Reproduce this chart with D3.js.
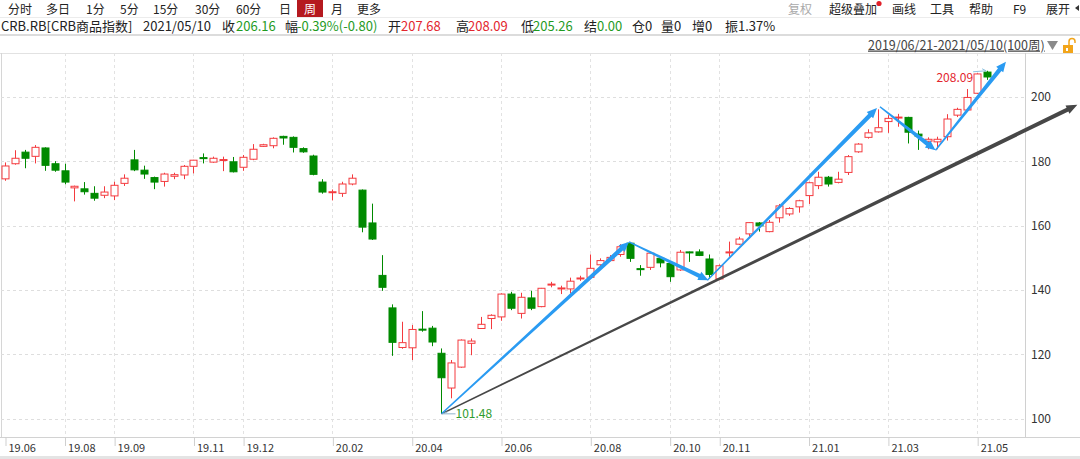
<!DOCTYPE html>
<html><head><meta charset="utf-8">
<script src="https://cdn.jsdelivr.net/npm/d3@7"></script>
<style>
html,body{margin:0;padding:0;background:#fff;}
svg{display:block;font-family:"Noto Sans CJK SC","Noto Sans",sans-serif;}
</style></head>
<body><svg id="c" width="1080" height="459"></svg>
<script>
// ---- data (weekly candles, 2019/06/21 - 2021/05/10, 100 weeks) ----
const open = [174.5,179.2,182.8,181.5,184.1,179.2,177.0,171.7,171.4,170.0,
169.4,169.2,173.1,180.4,177.2,174.9,173.7,175.3,175.7,178.4,
181.1,179.7,180.2,179.8,178.1,180.6,184.6,184.8,187.7,187.4,
183.9,181.6,173.5,170.3,170.0,172.9,171.0,160.8,144.5,134.4,
122.1,122.0,127.8,128.1,120.3,109.5,116.0,123.4,128.0,131.1,
131.6,138.7,132.7,137.5,134.8,141.5,140.4,140.3,143.5,143.9,
147.8,149.1,151.0,154.5,146.6,147.0,149.8,148.2,146.2,151.8,
151.8,149.6,143.4,151.6,154.2,157.4,160.8,158.1,162.4,163.6,
165.8,169.3,172.4,175.0,173.4,176.5,182.9,187.4,189.1,192.3,
193.5,193.6,188.4,186.2,186.0,187.6,194.3,195.9,201.1,207.68];
const high = [179.6,183.4,183.5,185.0,184.3,180.0,179.2,172.4,173.5,172.2,
172.2,173.6,175.9,183.5,178.6,175.2,176.4,176.4,178.8,180.4,
182.4,181.4,181.4,181.3,181.9,185.3,185.4,187.4,187.9,187.7,
184.3,182.0,174.4,171.2,173.6,175.9,171.2,166.8,150.8,135.5,
130.1,129.1,133.4,128.8,121.8,118.2,124.6,124.9,131.6,132.4,
138.9,139.4,139.1,139.7,140.6,142.5,141.3,143.8,144.4,151.0,
149.8,150.8,154.2,154.9,147.7,151.8,150.5,148.7,152.4,151.9,
152.6,151.0,147.9,155.0,156.5,161.0,161.1,161.7,166.7,165.7,
168.0,173.6,176.7,175.4,176.7,181.9,185.6,189.9,196.1,194.3,
194.7,193.8,189.5,187.4,187.6,194.6,196.6,202.4,207.3,208.09];
const low = [173.9,178.9,177.8,179.3,177.0,176.7,172.8,167.5,169.6,167.7,
168.5,167.9,172.3,176.9,174.5,171.3,172.1,174.4,174.4,176.2,
179.3,179.5,176.9,176.5,177.0,180.3,184.4,184.0,185.1,182.7,
182.6,175.6,169.9,167.8,168.9,172.5,157.9,155.5,139.7,119.5,
121.7,118.2,127.0,122.5,101.48,106.3,115.8,119.7,127.9,127.8,
130.4,133.7,131.1,133.7,134.6,140.8,138.7,138.9,142.8,143.6,
147.4,148.9,150.3,148.7,144.4,146.2,147.0,142.5,145.9,148.7,
150.5,143.6,143.0,150.3,153.9,156.5,158.1,157.9,160.9,163.0,
164.0,166.7,171.3,172.1,173.1,175.7,182.6,187.0,188.9,188.8,
190.7,185.5,183.5,183.7,183.7,186.4,193.7,195.6,200.9,205.26];
const close = [178.5,180.9,180.9,184.3,178.7,177.2,173.5,172.2,170.5,168.5,
170.4,172.5,174.7,177.3,176.0,173.5,176.0,175.8,178.4,180.3,
180.9,180.9,180.5,176.7,181.2,183.7,185.1,187.1,187.2,184.3,
182.9,175.9,170.4,170.5,172.9,174.7,159.5,155.8,140.8,123.7,
123.6,127.7,127.5,123.8,112.7,117.3,124.4,124.1,129.3,132.1,
138.7,134.3,137.7,134.3,140.5,141.8,140.6,142.7,143.7,146.7,
149.1,150.1,153.4,149.8,146.4,151.4,148.4,144.1,151.7,151.5,
150.7,144.8,147.5,151.8,155.8,160.9,159.9,161.0,166.1,165.3,
167.7,173.3,175.0,172.9,174.4,181.4,185.3,188.8,190.4,193.3,
193.7,189.0,187.8,186.8,186.8,193.1,196.1,199.8,207.1,206.16];

const tickIndex  = [0,6,11,19,24,33,41,50,59,67,72,81,89,98];
const tickLabels = ["19.06","19.08","19.09","19.11","19.12","20.02","20.04","20.06","20.08","20.10","20.11","21.01","21.03","21.05"];
const yTicks = [100,120,140,160,180,200];

// drawn trend arrows: [i1, v1, i2, v2]
const blueArrows = [[44,101.48,62.9,154.9],[62.9,154.9,70.9,143.0],[70.8,143.0,87.9,196.5],[88.2,196.9,93.8,183.4],[93.8,183.4,100.9,210.9]];
const grayArrow = [44,101.48,108.1,197.5];

const toolbarLeft = ["分时","多日","1分","5分","15分","30分","60分","日","周","月","更多"];
const toolbarLeftX = [8,46,86,120,153,195,236,279,298,331,357];
const toolbarRight = ["复权","超级叠加","画线","工具","帮助","F9","展开"];
const toolbarRightX = [788,829,892,930,969,1013,1046];

// ---- layout ----
const RED = "#f43a3e", GREEN = "#008a00";
const TXTRED = "#e3262e", TXTGREEN = "#1f9b1f";
const svg = d3.select("#c");
const plot = {left:1, right:1025, top:53, bottom:437};

const x = d3.scaleLinear().domain([0, open.length-1]).range([5, 987.1]);
const y = d3.scaleLinear().domain([100, 200]).range([418.6, 96.8]);

// header row 1
const g1 = svg.append("g");
g1.append("line").attr("x1",0).attr("x2",1080).attr("y1",17.5).attr("y2",17.5).attr("stroke","#ececec");
toolbarLeft.forEach((t,i)=>{
  if (t==="周") {
    g1.append("rect").attr("x",297).attr("y",0).attr("width",26).attr("height",17).attr("fill","#b5191f");
    g1.append("text").attr("x",310).attr("y",14).attr("text-anchor","middle").attr("font-size",12).attr("fill","#fff").text(t);
  } else {
    g1.append("text").attr("x",toolbarLeftX[i]).attr("y",14).attr("font-size",12).attr("fill","#222").text(t);
  }
});
toolbarRight.forEach((t,i)=>{
  g1.append("text").attr("x",toolbarRightX[i]).attr("y",14).attr("font-size",12)
    .attr("fill", t==="复权" ? "#aaa" : "#222").text(t);
});
g1.append("circle").attr("cx",879).attr("cy",3.5).attr("r",2.6).attr("fill","#e0202a");
g1.append("path").attr("d","M1079,5 L1075,8 L1079,11 Z").attr("fill","#333");

// header row 2
const info = [
  ["CRB.RB[CRB商品指数]",1,"#222"],["2021/05/10",143,"#222"],
  ["收",222,"#222"],["206.16",236,TXTGREEN],
  ["幅",285,"#222"],["-0.39%(-0.80)",297,TXTGREEN],
  ["开",388,"#222"],["207.68",401,TXTRED],
  ["高",456,"#222"],["208.09",468,TXTRED],
  ["低",521,"#222"],["205.26",533,TXTGREEN],
  ["结",584,"#222"],["0.00",597,TXTGREEN],
  ["仓0",632,"#222"],["量0",661,"#222"],["增0",692,"#222"],["振1.37%",725,"#222"]
];
info.forEach(d=>{
  svg.append("text").attr("x",d[1]).attr("y",31).attr("font-size",13).attr("fill",d[2]).text(d[0]);
});
svg.append("rect").attr("x",0).attr("y",34).attr("width",1080).attr("height",2).attr("fill","#dcdcdc");

// header row 3
svg.append("text").attr("x",868).attr("y",49.5).attr("font-size",12.5).attr("fill","#444")
  .attr("text-decoration","underline").text("2019/06/21-2021/05/10(100周)");
svg.append("path").attr("d","M1047,41 L1058,41 L1052.5,50 Z").attr("fill","#8a8a8a");
svg.append("rect").attr("x",1063).attr("y",45).attr("width",10).attr("height",8).attr("fill","#f2a51a");
svg.append("path").attr("d","M1069,45 L1069,41.5 A3,3 0 0 1 1075,41.5 L1075,43").attr("fill","none").attr("stroke","#f2a51a").attr("stroke-width",1.5);
svg.append("rect").attr("x",1066).attr("y",48).attr("width",2).attr("height",3).attr("fill","#fff");

// plot frame
svg.append("line").attr("x1",0).attr("x2",1080).attr("y1",plot.top+0.5).attr("y2",plot.top+0.5).attr("stroke","#e2e2e2");
svg.append("line").attr("x1",plot.left+0.5).attr("x2",plot.left+0.5).attr("y1",plot.top).attr("y2",plot.bottom).attr("stroke","#d6d6d6");
svg.append("line").attr("x1",plot.right+0.5).attr("x2",plot.right+0.5).attr("y1",plot.top).attr("y2",plot.bottom).attr("stroke","#d0d0d0");

// gridlines
const grid = svg.append("g");
yTicks.forEach(v=>{
  grid.append("line").attr("x1",plot.left).attr("x2",plot.right).attr("y1",Math.round(y(v))+0.5).attr("y2",Math.round(y(v))+0.5)
    .attr("stroke","#dedede").attr("stroke-dasharray","3,3");
});
tickIndex.slice(1).forEach(i=>{
  const xx = Math.round(x(i))+0.5;
  grid.append("line").attr("x1",xx).attr("x2",xx).attr("y1",plot.top).attr("y2",plot.bottom)
    .attr("stroke","#e2e2e2").attr("stroke-dasharray","3,3");
});

// right axis
const ya = svg.append("g").attr("transform",`translate(${plot.right},0)`)
  .call(d3.axisRight(y).tickValues(yTicks).tickSize(0).tickPadding(6).tickFormat(d3.format("d")));
ya.select(".domain").remove();
ya.selectAll("text").attr("font-size",12).attr("fill","#333").attr("font-family","'Noto Sans CJK SC','Noto Sans',sans-serif");

// bottom axis
const xa = svg.append("g").attr("transform",`translate(0,${plot.bottom})`)
  .call(d3.axisBottom(x).tickValues(tickIndex).tickSize(9).tickPadding(0)
    .tickFormat((d,i)=>tickLabels[i]));
xa.select(".domain").attr("d",`M0,0.5H1080`).attr("stroke","#d2d2d2");
xa.selectAll(".tick line").attr("stroke","#cfcfcf").attr("transform","translate(0.5,0)");
xa.selectAll(".tick text").attr("text-anchor","start").attr("dx",3).attr("y",14.5).attr("dy",0)
  .attr("font-size",11).attr("fill","#333").attr("font-family","'Noto Sans CJK SC','Noto Sans',sans-serif");
svg.append("rect").attr("x",0).attr("y",456).attr("width",1080).attr("height",3).attr("fill","#e4e4e4");

// candles
const cg = svg.append("g");
const bw = 7;
open.forEach((o,i)=>{
  const c = close[i], up = c >= o;
  const col = up ? RED : GREEN;
  const xc = Math.round(x(i)) + 0.5;
  cg.append("line").attr("x1",xc).attr("x2",xc).attr("y1",y(high[i])).attr("y2",y(low[i])).attr("stroke",col).attr("stroke-width",1);
  const top = y(Math.max(o,c)), bot = y(Math.min(o,c));
  const h = Math.max(1, bot-top);
  cg.append("rect").attr("x",xc-bw/2).attr("y",top).attr("width",bw).attr("height",h)
    .attr("fill",up ? "#fff" : col).attr("stroke",col).attr("stroke-width",1);
});

// tapered arrows
function arrow(a, w1, w2, hl, hw, col){
  const x1=x(a[0]), y1=y(a[1]), x2=x(a[2]), y2=y(a[3]);
  const dx=x2-x1, dy=y2-y1, L=Math.hypot(dx,dy), ux=dx/L, uy=dy/L, nx=-uy, ny=ux;
  const bx=x2-ux*hl, by=y2-uy*hl;
  const pts=[[x1+nx*w1/2,y1+ny*w1/2],[bx+nx*w2/2,by+ny*w2/2],[bx+nx*hw/2,by+ny*hw/2],[x2,y2],
             [bx-nx*hw/2,by-ny*hw/2],[bx-nx*w2/2,by-ny*w2/2],[x1-nx*w1/2,y1-ny*w1/2]];
  svg.append("path").attr("d","M"+pts.map(p=>p.join(",")).join("L")+"Z").attr("fill",col);
}
arrow(grayArrow, 1.4, 4.2, 11, 9, "#474747");
blueArrows.forEach(a=>arrow(a, 1.4, 4.4, 10, 9, "#2a9bf2"));

// hi/lo labels
const xl = x(44), ylo = y(101.48);
svg.append("path").attr("d",`M${xl+6},${ylo-2} L${xl+1},${ylo} L${xl+14},${ylo}`).attr("fill","none").attr("stroke","#8fb3cc").attr("stroke-width",1);
svg.append("text").attr("x",xl+14).attr("y",ylo+4.5).attr("font-size",12).attr("fill","#2e9b2e").text("101.48");
const xh = x(99), yhi = y(208.09);
svg.append("path").attr("d",`M${xh-14},${yhi+1} L${xh-1},${yhi} M${xh-5},${yhi-2} L${xh-1},${yhi}`).attr("fill","none").attr("stroke","#8fc3e0").attr("stroke-width",1);
svg.append("text").attr("x",xh-14).attr("y",yhi+11).attr("text-anchor","end").attr("font-size",12).attr("fill",TXTRED).text("208.09");
</script></body></html>
